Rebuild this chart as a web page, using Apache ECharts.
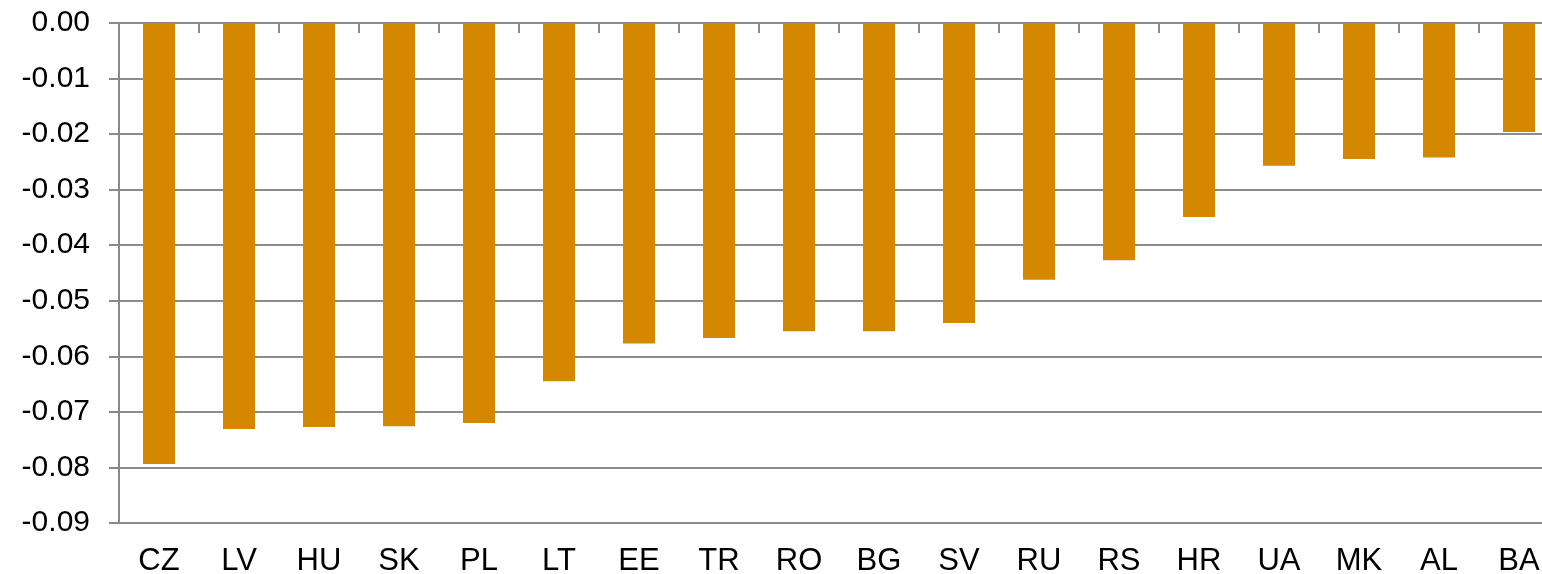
<!DOCTYPE html>
<html>
<head>
<meta charset="utf-8">
<script src="https://cdn.jsdelivr.net/npm/echarts@6/dist/echarts.min.js"></script>
<style>html,body{margin:0;padding:0;background:#fff}#c{width:1542px;height:574px}</style>
</head>
<body>
<div id="c"></div>
<script>
const categories = ['CZ','LV','HU','SK','PL','LT','EE','TR','RO','BG','SV','RU','RS','HR','UA','MK','AL','BA'];
const values = [-0.0794,-0.0731,-0.0727,-0.0726,-0.0720,-0.0645,-0.0577,-0.0567,-0.0555,-0.0555,-0.0540,-0.0462,-0.0427,-0.0349,-0.0257,-0.0245,-0.0242,-0.0196];
const yMin = -0.09, yMax = 0, yStep = 0.01;

const chart = echarts.init(document.getElementById('c'), null, {renderer:'canvas'});
const font = 'Liberation Sans, Arial, sans-serif';
chart.setOption({
  animation: false,
  grid: {left: 119, top: 23, width: 1440, bottom: 51, containLabel: false, outerBoundsMode: 'none'},
  xAxis: [{
    type: 'category', data: categories, position: 'top',
    axisLine: {show: true, lineStyle: {color: '#898989', width: 2}},
    axisTick: {show: true, inside: true, length: 10, interval: 0, lineStyle: {color: '#898989', width: 2}},
    axisLabel: {show: false},
    splitLine: {show: false}
  },{
    type: 'category', data: categories, position: 'bottom',
    axisLine: {show: false}, axisTick: {show: false},
    axisLabel: {show: true, interval: 0, margin: 23, fontSize: 31, color: '#000', fontFamily: font}
  }],
  yAxis: {
    type: 'value', min: yMin, max: yMax, interval: yStep,
    axisLine: {show: true, lineStyle: {color: '#898989', width: 2}},
    axisTick: {show: true, length: 10, lineStyle: {color: '#898989', width: 2}},
    axisLabel: {margin: 29, fontSize: 30, color: '#000', fontFamily: font, formatter: v => v.toFixed(2)},
    splitLine: {show: true, lineStyle: {color: '#8c8c8c', width: 2}}
  },
  series: [{
    type: 'bar', data: values, xAxisIndex: 0, barWidth: 32,
    itemStyle: {color: '#D48800'}
  }]
});
</script>
</body>
</html>
